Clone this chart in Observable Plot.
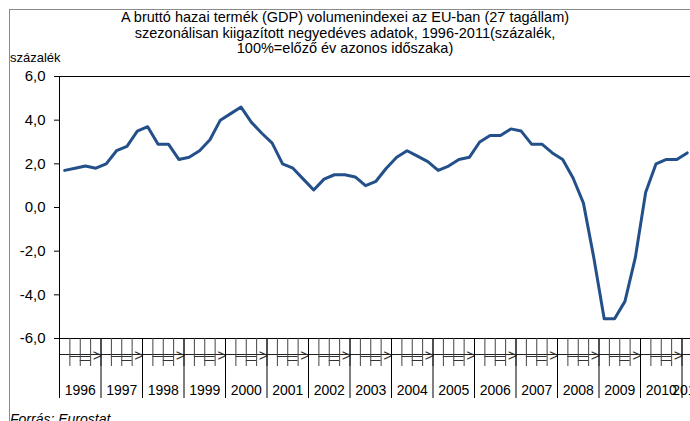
<!DOCTYPE html>
<html><head><meta charset="utf-8">
<script src="https://cdn.jsdelivr.net/npm/d3@7"></script>
<script src="https://cdn.jsdelivr.net/npm/@observablehq/plot@0.6"></script>
<style>
body{margin:0;overflow:hidden;background:#fff;font-family:"Liberation Sans",Arial,sans-serif;color:#000;}
#wrap{position:relative;width:690px;height:421px;overflow:hidden;background:#fff;}
#border{position:absolute;left:9px;top:9px;width:720px;height:440px;border:1px solid #8a8a8a;}
#chart{position:absolute;left:0;top:0;}
#title{position:absolute;left:0;width:690px;top:10px;text-align:center;font-size:14.5px;line-height:15.7px;}
#ylab{position:absolute;left:10px;top:50px;font-size:13px;}
#source{position:absolute;left:10px;top:411px;font-size:14px;font-style:italic;}
</style></head>
<body>
<div id="wrap">
  <div id="border"></div>
  <div id="chart"></div>
  <div id="title">A bruttó hazai termék (GDP) volumenindexei az EU-ban (27 tagállam)<br>szezonálisan kiigazított negyedéves adatok, 1996-2011(százalék,<br>100%=előző év azonos időszaka)</div>
  <div id="ylab">százalék</div>
  <div id="source">Forrás: Eurostat</div>
</div>
<script>
const years = [1996,1997,1998,1999,2000,2001,2002,2003,2004,2005,2006,2007,2008,2009,2010,2011];
const quartersPerYear = [4,4,4,4,4,4,4,4,4,4,4,4,4,4,4,1];
const values = [
  1.7,1.8,1.9,1.8,
  2.0,2.6,2.8,3.5,
  3.7,2.9,2.9,2.2,
  2.3,2.6,3.1,4.0,
  4.3,4.6,3.9,3.4,
  2.95,2.0,1.8,1.3,
  0.8,1.3,1.5,1.5,
  1.4,1.0,1.2,1.8,
  2.3,2.6,2.35,2.1,
  1.7,1.9,2.2,2.3,
  3.0,3.3,3.3,3.6,
  3.5,2.9,2.9,2.5,
  2.2,1.35,0.2,-2.3,
  -5.1,-5.1,-4.3,-2.3,
  0.7,2.0,2.2,2.2,
  2.5
];
const yTicks = [-6,-4,-2,0,2,4,6];
const yMin = -6, yMax = 6;

const startYear = years[0];
const rows = values.map((v, i) => ({t: startYear + (i + 0.5) / 4, v}));
const quarterBounds = d3.range(0, values.length + 1).map(i => startYear + i / 4);
const fullYears = years.filter((d, i) => quartersPerYear[i] === 4);
const fmt = d => d.toFixed(1).replace(".", ",");

const chart = Plot.plot({
  width: 690,
  height: 421,
  marginLeft: 59,
  marginRight: 0,
  marginTop: 76,
  marginBottom: 83,
  style: {background: "transparent", fontFamily: "Liberation Sans, Arial, sans-serif", fontSize: "14px", color: "#000", overflow: "visible"},
  x: {type: "linear", domain: [startYear, startYear + 631 / 41.5]},
  y: {domain: [yMin, yMax]},
  marks: [
    Plot.ruleY([yMax], {stroke: "#000"}),
    Plot.ruleY([yMin], {stroke: "#000"}),
    Plot.ruleY([yMin], {stroke: "#222", dy: 16}),
    Plot.ruleY(fullYears, {y: () => yMin, x1: d => d + 0.25, x2: d => d + 0.75, dy: 18, stroke: "#333"}),
    Plot.ruleY(fullYears, {y: () => yMin, x1: d => d + 0.5, x2: d => d + 0.75, dy: 22, stroke: "#333"}),
    Plot.text(fullYears, {x: d => d + 1, y: () => yMin, text: () => ">", textAnchor: "end", dy: 17, dx: 1, fontSize: 16, lineAnchor: "middle", fill: "#333"}),
    Plot.axisX({ticks: quarterBounds, tickSize: 28, tickFormat: () => "", label: null, stroke: "#444"}),
    Plot.axisX({ticks: years, tickSize: 60, tickFormat: () => "", label: null, stroke: "#000"}),
    Plot.text(years, {x: (d, i) => d + quartersPerYear[i] / 8, y: () => yMin, text: d => `${d}`, dy: 52, fontSize: 14, lineAnchor: "middle", fill: "#000"}),
    Plot.ruleX([startYear], {y1: yMin, y2: yMax, stroke: "#000"}),
    Plot.axisY({ticks: yTicks, tickFormat: fmt, tickSize: 5, tickPadding: 9, fontSize: 15, label: null, stroke: "#000"}),
    Plot.line(rows, {x: "t", y: "v", stroke: "#24508a", strokeWidth: 3, strokeLinejoin: "round"})
  ]
});
document.getElementById("chart").appendChild(chart);
</script>
</body></html>
